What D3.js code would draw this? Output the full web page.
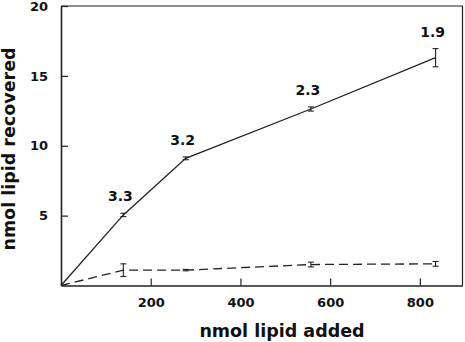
<!DOCTYPE html>
<html>
<head>
<meta charset="utf-8">
<script src="https://cdn.jsdelivr.net/npm/d3@7"></script>
<style>
  body { margin: 0; background: #fff; }
  text { font-family: "DejaVu Sans", sans-serif; font-weight: bold; fill: #111; }
</style>
</head>
<body>
<svg class="chart"></svg>
<script>
// nmol lipid added (origin included, both curves start there)
var added = [0, 139, 278, 557, 835];
// nmol lipid recovered, solid curve
var recovered = [0, 5.05, 9.1, 12.63, 16.3];
var recoveredErr = [0, 0.12, 0.1, 0.15, 0.65];
// dashed curve
var control = [0, 1.1, 1.1, 1.5, 1.55];
var controlErr = [0, 0.45, 0.05, 0.17, 0.17];
// ratio labels over the solid curve
var ratios = [null, "3.3", "3.2", "2.3", "1.9"];

var xTicks = [200, 400, 600, 800];
var yTicks = [5, 10, 15, 20];

var width = 465,
    height = 342;

var x = d3.scaleLinear()
    .domain([0, 895])
    .range([61, 462.5]);

var y = d3.scaleLinear()
    .domain([0, 20])
    .range([285.5, 6]);

var svg = d3.select(".chart")
    .attr("width", width)
    .attr("height", height);

// frame top + right
svg.append("path")
    .attr("d", "M" + x(0) + "," + y(20) + "H" + x(895) + "V" + y(0))
    .attr("fill", "none")
    .attr("stroke", "#222")
    .attr("stroke-width", 1.2);

// axes, ticks pointing inwards
var xAxis = svg.append("g")
    .attr("transform", "translate(0," + y(0) + ")")
    .call(d3.axisBottom(x).tickValues(xTicks).tickSizeInner(-7).tickSizeOuter(0).tickPadding(12));

var yAxis = svg.append("g")
    .attr("transform", "translate(" + x(0) + ",0)")
    .call(d3.axisLeft(y).tickValues(yTicks).tickSizeInner(-7).tickSizeOuter(0).tickPadding(13));

[xAxis, yAxis].forEach(function(g) {
  g.select(".domain").attr("stroke", "#222").attr("stroke-width", 1.6);
  g.selectAll(".tick line").attr("stroke", "#222").attr("stroke-width", 1.2);
  g.selectAll(".tick text")
      .attr("fill", "#111")
      .style("font-family", "'DejaVu Sans', sans-serif")
      .style("font-weight", "bold")
      .style("font-size", "13px");
});

function drawSeries(vals, errs, dash) {
  var line = d3.line()
      .x(function(d, i) { return x(added[i]); })
      .y(function(d) { return y(d); });

  svg.append("path")
      .datum(vals)
      .attr("d", line)
      .attr("fill", "none")
      .attr("stroke", "#222")
      .attr("stroke-width", 1.3)
      .attr("stroke-dasharray", dash);

  var bars = svg.selectAll(null)
      .data(vals.map(function(v, i) { return {x: added[i], v: v, e: errs[i]}; })
        .filter(function(d) { return d.e > 0; }))
    .enter().append("g")
      .attr("stroke", "#222")
      .attr("stroke-width", 1.1);

  bars.append("line")
      .attr("x1", function(d) { return x(d.x); })
      .attr("x2", function(d) { return x(d.x); })
      .attr("y1", function(d) { return y(d.v - d.e); })
      .attr("y2", function(d) { return y(d.v + d.e); });

  [-1, 1].forEach(function(s) {
    bars.append("line")
        .attr("x1", function(d) { return x(d.x) - 3; })
        .attr("x2", function(d) { return x(d.x) + 3; })
        .attr("y1", function(d) { return y(d.v + s * d.e); })
        .attr("y2", function(d) { return y(d.v + s * d.e); });
  });
}

drawSeries(recovered, recoveredErr, null);
drawSeries(control, controlErr, "9,5");

svg.selectAll(".ratio")
    .data(ratios)
  .enter().filter(function(d) { return d; }).append("text")
    .attr("class", "ratio")
    .attr("x", function(d, i) { return x(added[ratios.indexOf(d)]) - 3; })
    .attr("y", function(d) { var i = ratios.indexOf(d); return y(recovered[i] + recoveredErr[i]) - 12; })
    .attr("text-anchor", "middle")
    .style("font-size", "14px")
    .text(function(d) { return d; });

svg.append("text")
    .attr("x", 282)
    .attr("y", 337)
    .attr("text-anchor", "middle")
    .style("font-size", "17.5px")
    .text("nmol lipid added");

svg.append("text")
    .attr("transform", "translate(15,149) rotate(-90)")
    .attr("text-anchor", "middle")
    .style("font-size", "17.5px")
    .text("nmol lipid recovered");
</script>
</body>
</html>
